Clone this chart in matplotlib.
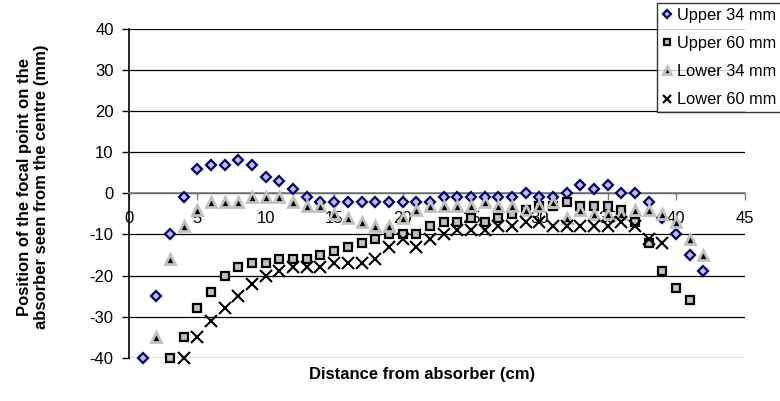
import matplotlib
matplotlib.use("Agg")
import matplotlib.pyplot as plt

plt.rcParams['font.family'] = ['Liberation Sans', 'DejaVu Sans']

x_upper34 = list(range(1, 43))
upper34 = [-40, -25, -10, -1, 6, 7, 7, 8, 7, 4,
           3, 1, -1, -2, -2, -2, -2, -2, -2, -2,
           -2, -2, -1, -1, -1, -1, -1, -1, 0, -1,
           -1, 0, 2, 1, 2, 0, 0, -2, -6, -10,
           -15, -19]

x_upper60 = list(range(3, 42))
upper60 = [-40, -35, -28, -24, -20, -18, -17, -17, -16, -16,
           -16, -15, -14, -13, -12, -11, -10, -10, -10, -8,
           -7, -7, -6, -7, -6, -5, -4, -3, -3, -2,
           -3, -3, -3, -4, -7, -12, -19, -23, -26]

x_lower34 = list(range(2, 43))
lower34 = [-35, -16, -8, -4, -2, -2, -2, -1, -1, -1,
           -2, -3, -3, -5, -6, -7, -8, -8, -6, -4,
           -3, -3, -3, -3, -2, -3, -3, -4, -3, -2,
           -6, -4, -5, -5, -5, -4, -4, -5, -7, -11,
           -15]

x_lower60 = list(range(4, 40))
lower60 = [-40, -35, -31, -28, -25, -22, -20, -19, -18, -18,
           -18, -17, -17, -17, -16, -13, -11, -13, -11, -10,
           -9, -9, -9, -8, -8, -7, -7, -8, -8, -8,
           -8, -8, -7, -8, -11, -12]

series_labels = ["Upper 34 mm", "Upper 60 mm", "Lower 34 mm", "Lower 60 mm"]
x_ticks = list(range(0, 46, 5))
y_ticks = list(range(-40, 41, 10))

fig = plt.figure(figsize=(7.8, 4.01), dpi=100)
ax = fig.add_axes([129 / 780, 1 - 357.7 / 401, (744.5 - 129) / 780, (357.7 - 29) / 401])

ax.set_xlim(0, 45)
ax.set_ylim(-40, 40)

ax.plot(x_upper34, upper34, linestyle='none', marker='D', markersize=5.2,
        markerfacecolor='#c0c0c0', markeredgecolor='#000080', markeredgewidth=1.6,
        clip_on=False, zorder=3, label=series_labels[0])
ax.plot(x_upper60, upper60, linestyle='none', marker='s', markersize=6.2,
        markerfacecolor='#c0c0c0', markeredgecolor='black', markeredgewidth=1.6,
        clip_on=False, zorder=4, label=series_labels[1])
ax.plot(x_lower34, lower34, linestyle='none', marker='^', markersize=7,
        markerfacecolor='black', markeredgecolor='#c0c0c0', markeredgewidth=2,
        clip_on=False, zorder=5, label=series_labels[2])
ax.plot(x_lower60, lower60, linestyle='none', marker='x', markersize=8,
        color='black', markeredgewidth=1.5,
        clip_on=False, zorder=6, label=series_labels[3])

ax.set_xticks(x_ticks)
ax.set_yticks(y_ticks)
ax.set_xticklabels([str(v) for v in x_ticks])
ax.set_yticklabels([str(v) for v in y_ticks])

ax.grid(axis='y', color='black', linewidth=0.9, zorder=1)
ax.set_axisbelow(True)

ax.spines['top'].set_visible(False)
ax.spines['right'].set_visible(False)
ax.spines['bottom'].set_position(('data', 0))
ax.spines['bottom'].set_color('#808080')
ax.spines['bottom'].set_linewidth(1.2)
ax.spines['left'].set_linewidth(1.2)

ax.tick_params(axis='x', direction='out', length=5, width=1, color='#808080',
               labelsize=12, pad=8)
ax.tick_params(axis='y', direction='out', length=5, width=1, labelsize=12, pad=6)

fig.text(422 / 780, 1 - 375 / 401, "Distance from absorber (cm)", ha='center', va='center',
         fontsize=12, fontweight='bold')
fig.text(33 / 780, 1 - 187 / 401,
         "Position of the focal point on the\nabsorber seen from the centre (mm)",
         ha='center', va='center', rotation=90, fontsize=12, fontweight='bold',
         linespacing=1.2)

leg = fig.legend(loc='upper left', bbox_to_anchor=(657 / 780, 1 - 3 / 401),
                 fontsize=11.8, frameon=True, fancybox=False, handlelength=0.6,
                 handletextpad=0.3, borderpad=0.3, labelspacing=0.8,
                 borderaxespad=0, markerscale=0.8)
leg.get_frame().set_edgecolor('black')
leg.get_frame().set_linewidth(1.0)

fig.savefig("out.png", dpi=100)
